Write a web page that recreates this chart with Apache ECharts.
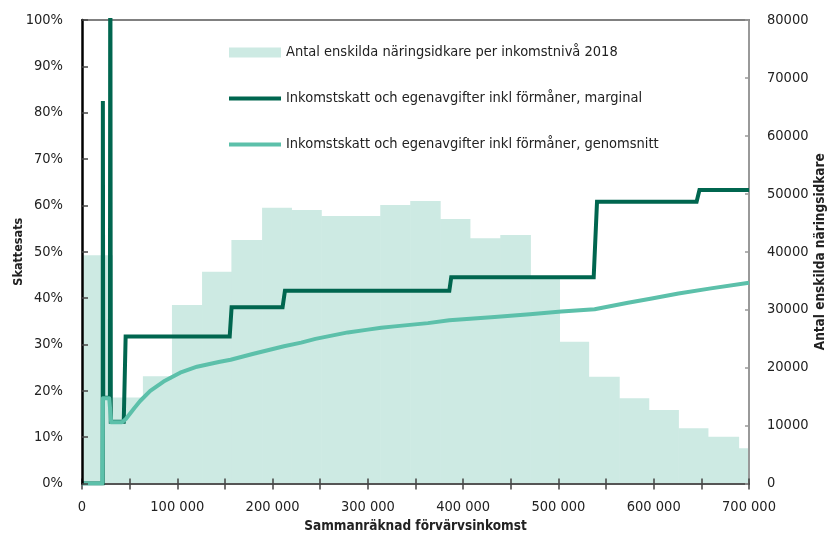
<!DOCTYPE html>
<html>
<head>
<meta charset="utf-8">
<script src="https://cdn.jsdelivr.net/npm/echarts@6/dist/echarts.min.js"></script>
<style>
html,body{margin:0;padding:0;background:#fff;}
#c{width:828px;height:537px;}
</style>
</head>
<body>
<div id="c"></div>
<script>
// Histogram bins (income, kr) and counts (right axis)
const binStart = [0, 31800, 63900, 94400, 126000, 156800, 189000, 219700, 251000, 282000, 313000, 344500, 375800, 407000, 439000, 470500, 501000, 531600, 563700, 594700, 625800, 656800, 689000];
const binEnd   = [31800, 63900, 94400, 126000, 156800, 189000, 219700, 251000, 282000, 313000, 344500, 375800, 407000, 439000, 470500, 501000, 531600, 563700, 594700, 625800, 656800, 689000, 720000];
const binCount = [39400, 14850, 18500, 30800, 36550, 42030, 47600, 47200, 46170, 46170, 48070, 48760, 45650, 42320, 42890, 35400, 24470, 18430, 14700, 12690, 9530, 8080, 6070];

// Marginal rate (%), points [income, rate]
const marginalX = [0, 21700, 21900, 22300, 29300, 29700, 30200, 43800, 45800, 155000, 157000, 210500, 213000, 385500, 387500, 537000, 540500, 645000, 648000, 700000];
const marginalY = [0, 0, 82.5, 18.5, 18.5, 140, 13.3, 13.3, 31.7, 31.7, 38.0, 38.0, 41.6, 41.6, 44.5, 44.5, 60.8, 60.8, 63.3, 63.3];

// Average rate (%), points [income, rate]
const averageX = [0, 21300, 21900, 28600, 30600, 42000, 46000, 50500, 55000, 61000, 71600, 85600, 103000, 120700, 143500, 156000, 180000, 212000, 230000, 245000, 279000, 300000, 314000, 328000, 363000, 385500, 387500, 433000, 470000, 503000, 538000, 573000, 598000, 626000, 660000, 700000];
const averageY = [0, 0, 18.4, 18.4, 13.2, 13.2, 13.9, 15.1, 16.3, 17.8, 20.0, 22.0, 23.9, 25.2, 26.2, 26.7, 28.0, 29.6, 30.4, 31.2, 32.6, 33.2, 33.6, 33.9, 34.6, 35.2, 34.9, 35.9, 36.5, 37.1, 37.6, 39.0, 39.9, 41.0, 42.1, 43.3];

const leftTicks = {min: 0, max: 100, interval: 10};
const rightTicks = {min: 0, max: 80000, interval: 10000};
const xTicks = {min: 0, max: 700000, interval: 50000, labelStep: 100000};

const names = [
  'Antal enskilda näringsidkare per inkomstnivå 2018',
  'Inkomstskatt och egenavgifter inkl förmåner, marginal',
  'Inkomstskatt och egenavgifter inkl förmåner, genomsnitt'
];

const FONT = "'Liberation Sans Narrow', 'DejaVu Sans Condensed', sans-serif";
const BAR = '#cdeae3', DARK = '#00664f', LIGHT = '#5cc0aa', TXT = '#222';
const LINE_ICON = 'path://M0,0 L52,0 L52,4 L0,4 Z';

const binData = binStart.map((s, i) => [s, binEnd[i], binCount[i]]);
const margData = marginalX.map((x, i) => [x, marginalY[i]]);
const avgData = averageX.map((x, i) => [x, averageY[i]]);

function fmtNum(v) {
  return String(v).replace(/\B(?=(\d{3})+(?!\d))/g, ' ');
}

const chart = echarts.init(document.getElementById('c'), null, {renderer: 'canvas'});
chart.setOption({
  animation: false,
  backgroundColor: '#fff',
  textStyle: {fontFamily: FONT},
  grid: {left: 82, right: 79, top: 20, bottom: 53.5, show: false,
    containLabel: false, outerBoundsMode: 'none'},
  legend: {
    orient: 'vertical', left: 224, top: 40, itemWidth: 52, itemHeight: 10, itemGap: 31,
    textStyle: {fontFamily: FONT, fontSize: 14.5, color: TXT},
    data: [
      {name: names[0], icon: 'rect'},
      {name: names[1], icon: LINE_ICON},
      {name: names[2], icon: LINE_ICON}
    ]
  },
  xAxis: [
    {
      type: 'value', min: xTicks.min, max: xTicks.max, interval: xTicks.interval, zlevel: 1, z: 1,
      name: 'Sammanräknad förvärvsinkomst', nameLocation: 'middle', nameGap: 36, nameMoveOverlap: false,
      nameTextStyle: {fontFamily: FONT, fontSize: 13.5, fontWeight: 'bold', color: TXT},
      axisLine: {show: true, onZero: false, lineStyle: {color: '#555', width: 2}},
      axisTick: {show: true, inside: false, length: 6, lineStyle: {color: '#444', width: 1.5}},
      axisLabel: {margin: 16, fontFamily: FONT, fontSize: 14.5, color: TXT,
        formatter: v => (v % xTicks.labelStep === 0 ? fmtNum(v) : '')},
      splitLine: {show: false}
    },
    {
      type: 'value', min: xTicks.min, max: xTicks.max, interval: xTicks.interval, position: 'bottom', zlevel: 1, z: 1,
      axisLine: {show: false, onZero: false},
      axisTick: {show: true, inside: true, length: 5, lineStyle: {color: '#444', width: 1.5}},
      axisLabel: {show: false}, splitLine: {show: false}
    },
    {
      type: 'value', min: xTicks.min, max: xTicks.max, position: 'top', zlevel: 1, z: 1,
      axisLine: {show: true, onZero: false, lineStyle: {color: '#808080', width: 2}},
      axisTick: {show: false}, axisLabel: {show: false}, splitLine: {show: false}
    }
  ],
  yAxis: [
    {
      type: 'value', position: 'left', min: leftTicks.min, max: leftTicks.max, interval: leftTicks.interval, zlevel: 1, z: 5,
      name: 'Skattesats', nameLocation: 'middle', nameGap: 57, nameMoveOverlap: false,
      nameTextStyle: {fontFamily: FONT, fontSize: 12.5, fontWeight: 'bold', color: TXT},
      axisLine: {show: true, onZero: false, lineStyle: {color: '#000', width: 2.5}},
      axisTick: {show: true, inside: true, length: 6, lineStyle: {color: '#444', width: 1.5}},
      axisLabel: {margin: 19, fontFamily: FONT, fontSize: 14.5, color: TXT, formatter: '{value}%'},
      splitLine: {show: false}
    },
    {
      type: 'value', position: 'right', min: rightTicks.min, max: rightTicks.max, interval: rightTicks.interval, zlevel: 1, z: 1,
      name: 'Antal enskilda näringsidkare', nameLocation: 'middle', nameGap: 64, nameMoveOverlap: false,
      nameTextStyle: {fontFamily: FONT, fontSize: 13.5, fontWeight: 'bold', color: TXT},
      axisLine: {show: true, onZero: false, lineStyle: {color: '#999', width: 2}},
      axisTick: {show: true, inside: true, length: 4, lineStyle: {color: '#999', width: 1.5}},
      axisLabel: {margin: 18, fontFamily: FONT, fontSize: 14.5, color: TXT, formatter: v => String(v)},
      splitLine: {show: false}
    }
  ],
  series: [
    {
      name: names[0], type: 'custom', xAxisIndex: 0, yAxisIndex: 1, zlevel: 0, z: 1, clip: true,
      itemStyle: {color: BAR},
      encode: {x: [0, 1], y: 2},
      data: binData,
      renderItem: function (params, api) {
        const p0 = api.coord([api.value(0), api.value(2)]);
        const p1 = api.coord([api.value(1), 0]);
        const rect = {x: p0[0], y: p0[1], width: p1[0] - p0[0] + 0.6, height: p1[1] - p0[1]};
        const clipped = echarts.graphic.clipRectByRect(rect, {
          x: params.coordSys.x, y: params.coordSys.y,
          width: params.coordSys.width, height: params.coordSys.height
        });
        if (!clipped) return;
        return {type: 'rect', shape: clipped, style: {fill: BAR}};
      }
    },
    {
      name: names[1], type: 'line', xAxisIndex: 0, yAxisIndex: 0, zlevel: 1, z: 3,
      showSymbol: false, symbol: 'none', clip: true,
      itemStyle: {color: DARK},
      lineStyle: {color: DARK, width: 4, join: 'miter'},
      data: margData
    },
    {
      name: names[2], type: 'line', xAxisIndex: 0, yAxisIndex: 0, zlevel: 1, z: 4,
      showSymbol: false, symbol: 'none', clip: true,
      itemStyle: {color: LIGHT},
      lineStyle: {color: LIGHT, width: 4, join: 'round'},
      data: avgData
    }
  ]
});
</script>
</body>
</html>
